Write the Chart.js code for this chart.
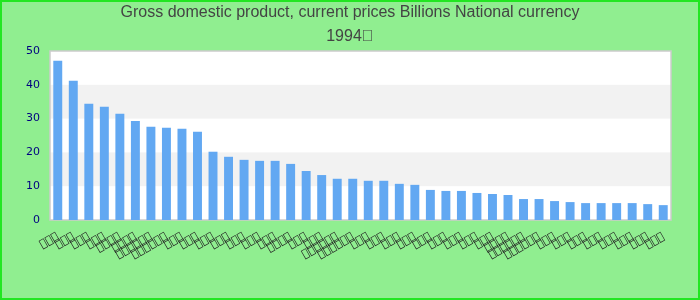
<!DOCTYPE html>
<html lang="en">
<head>
  <meta charset="utf-8" />
  <title>Gross domestic product 1994</title>
  <script src="https://cdn.jsdelivr.net/npm/chart.js"></script>
  <style>
    html, body { margin: 0; padding: 0; background: #90ee90; }
    canvas { display: block; }
  </style>
</head>
<body>
  <canvas id="gdp" width="700" height="300"></canvas>
  <script>
    // labels in the reference are unreadable (rendered as missing-glyph boxes)
    const T = '\uE000';
    const labelLengths = [3, 3, 3, 3, 4, 4, 6, 6, 3, 3,
                          3, 3, 3, 3, 3, 4, 3, 3, 6, 6,
                          3, 3, 3, 3, 3, 3, 3, 3, 3, 4,
                          6, 6, 3, 3, 3, 3, 3, 3, 3, 3];
    const categories = labelLengths.map(n => T.repeat(n));
    const gdpValues = [47.1, 41.2, 34.4, 33.5, 31.4, 29.3, 27.6, 27.3, 27.0, 26.1,
                       20.2, 18.7, 17.8, 17.5, 17.5, 16.6, 14.5, 13.3, 12.2, 12.2,
                       11.6, 11.6, 10.7, 10.4, 8.9, 8.6, 8.6, 8.0, 7.7, 7.4,
                       6.2, 6.2, 5.6, 5.3, 5.0, 5.0, 5.0, 5.0, 4.7, 4.4];
    const yTicks = [0, 10, 20, 30, 40, 50];

    const frame = {
      id: 'frame',
      beforeDraw(chart) {
        const c = chart.ctx;
        c.save();
        c.fillStyle = '#90ee90';
        c.fillRect(0, 0, chart.width, chart.height);
        c.strokeStyle = '#22e622';
        c.lineWidth = 2;
        c.strokeRect(1, 1, chart.width - 2, chart.height - 2);
        const a = chart.chartArea;
        const y = chart.scales.y;
        c.fillStyle = '#ffffff';
        c.fillRect(a.left, a.top, a.right - a.left, a.bottom - a.top);
        c.fillStyle = '#f2f2f2';
        for (let i = 1; i < yTicks.length - 1; i += 2) {
          const top = y.getPixelForValue(yTicks[i + 1]);
          const bot = y.getPixelForValue(yTicks[i]);
          c.fillRect(a.left, top, a.right - a.left, bot - top);
        }
        c.strokeStyle = '#cccccc';
        c.lineWidth = 1.5;
        c.strokeRect(a.left, a.top, a.right - a.left, a.bottom - a.top);
        c.restore();
      }
    };

    new Chart(document.getElementById('gdp'), {
      type: 'bar',
      data: {
        labels: categories,
        datasets: [{
          data: gdpValues,
          backgroundColor: '#62a8f2',
          borderWidth: 0,
          barPercentage: 0.72,
          categoryPercentage: 0.8
        }]
      },
      options: {
        responsive: false,
        animation: false,
        layout: { padding: 0 },
        plugins: {
          legend: { display: false },
          tooltip: { enabled: false },
          title: {
            display: true,
            text: ['Gross domestic product, current prices Billions National currency', '1994\uE000'],
            color: '#444444',
            font: { family: '"Liberation Sans", Arial, sans-serif', size: 16, weight: 'normal', lineHeight: 1.5 },
            padding: { top: 1, bottom: 2 }
          }
        },
        scales: {
          x: {
            grid: { display: false },
            border: { display: false },
            ticks: {
              color: '#222222',
              font: { family: '"DejaVu Sans", sans-serif', size: 11 },
              minRotation: 30,
              maxRotation: 30,
              autoSkip: false,
              padding: 2
            },
            afterFit(scale) { scale.height = 80; }
          },
          y: {
            min: 0,
            max: 50,
            grid: { display: false, drawTicks: false },
            border: { display: false },
            ticks: {
              stepSize: 10,
              color: '#000080',
              font: { family: '"DejaVu Sans", sans-serif', size: 11 },
              padding: 10
            },
            afterFit(scale) { scale.width = 50; }
          },
          yRight: {
            position: 'right',
            display: true,
            grid: { display: false, drawTicks: false },
            border: { display: false },
            ticks: { display: false },
            afterFit(scale) { scale.width = 29; }
          }
        }
      },
      plugins: [frame]
    });
  </script>
</body>
</html>
